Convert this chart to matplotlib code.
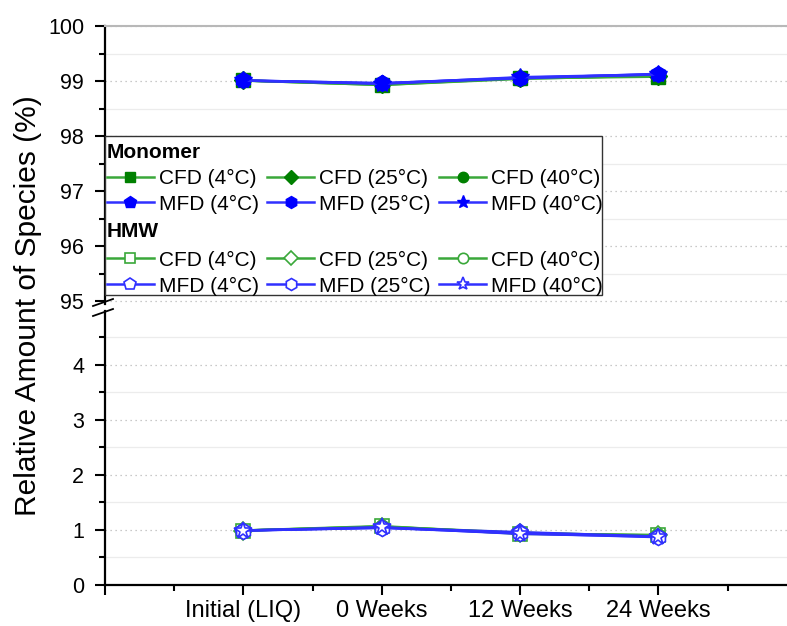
import numpy as np
import matplotlib
matplotlib.use('Agg')
import matplotlib.pyplot as plt
from matplotlib.patches import Rectangle
from matplotlib.ticker import MultipleLocator

plt.rcParams['font.family'] = ['Liberation Sans', 'DejaVu Sans']

# categories on the x axis
timepoints = ['Initial (LIQ)', '0 Weeks', '12 Weeks', '24 Weeks']
series_labels = ['CFD (4°C)', 'CFD (25°C)', 'CFD (40°C)',
                 'MFD (4°C)', 'MFD (25°C)', 'MFD (40°C)']

# monomer (%)
mono_cfd_4 = [99.01, 98.93, 99.05, 99.08]
mono_cfd_25 = [99.01, 98.94, 99.06, 99.09]
mono_cfd_40 = [99.01, 98.93, 99.04, 99.10]
mono_mfd_4 = [99.01, 98.96, 99.06, 99.12]
mono_mfd_25 = [99.01, 98.96, 99.05, 99.13]
mono_mfd_40 = [99.01, 98.95, 99.07, 99.12]

# HMW (%)
hmw_cfd_4 = [0.99, 1.07, 0.93, 0.91]
hmw_cfd_25 = [0.99, 1.06, 0.94, 0.90]
hmw_cfd_40 = [0.99, 1.06, 0.95, 0.89]
hmw_mfd_4 = [0.99, 1.04, 0.96, 0.88]
hmw_mfd_25 = [0.99, 1.04, 0.94, 0.87]
hmw_mfd_40 = [0.99, 1.05, 0.93, 0.88]

mono = [mono_cfd_4, mono_cfd_25, mono_cfd_40, mono_mfd_4, mono_mfd_25, mono_mfd_40]
hmw = [hmw_cfd_4, hmw_cfd_25, hmw_cfd_40, hmw_mfd_4, hmw_mfd_25, hmw_mfd_40]

markers = ['s', 'D', 'o', 'p', 'h', '*']
msizes = [9.5, 9, 10, 11.5, 11.5, 13]
line_cols = ['#3aa83a'] * 3 + ['#3030ff'] * 3
mark_cols = ['#008000'] * 3 + ['#0000ff'] * 3

W, H = 787, 626
fig = plt.figure(figsize=(W / 100, H / 100), dpi=100)

left = 105 / W
top_y0, top_y1 = 26, 304
bot_y0, bot_y1 = 311, 585
ax_top = fig.add_axes([left, 1 - top_y1 / H, 1 - left, (top_y1 - top_y0) / H])
ax_bot = fig.add_axes([left, 1 - bot_y1 / H, 1 - left, (bot_y1 - bot_y0) / H])

x = np.arange(1, len(timepoints) + 1)

mono_handles = []
hmw_handles = []
for i in range(6):
    h, = ax_top.plot(x, mono[i], color=line_cols[i], lw=1.8, marker=markers[i],
                     ms=msizes[i], mfc=mark_cols[i], mec=mark_cols[i],
                     label=series_labels[i])
    mono_handles.append(h)
    h2, = ax_bot.plot(x, hmw[i], color=line_cols[i], lw=1.8, marker=markers[i],
                      ms=msizes[i], mfc='white', mec=line_cols[i], mew=1.2,
                      label=series_labels[i])
    hmw_handles.append(h2)

ax_top.set_ylim(94.95, 100)
ax_bot.set_ylim(0, 4.98)
for ax in (ax_top, ax_bot):
    ax.set_xlim(0, 4.93)
    ax.yaxis.set_major_locator(MultipleLocator(1))
    ax.yaxis.set_minor_locator(MultipleLocator(0.5))
    ax.grid(True, which='major', axis='y', color='#b8b8b8', lw=0.9, ls=(0, (1, 3)))
    ax.grid(True, which='minor', axis='y', color='#ececec', lw=0.9)
    ax.set_axisbelow(True)
    ax.spines['right'].set_visible(False)
    ax.spines['left'].set_linewidth(1.6)
    ax.tick_params(axis='y', which='major', length=7, width=1.5, labelsize=15.5, pad=8)
    ax.tick_params(axis='y', which='minor', length=4, width=1.5)

ax_top.spines['bottom'].set_visible(False)
ax_top.spines['top'].set_color('#b8b8b8')
ax_top.spines['top'].set_linewidth(1.5)
ax_top.tick_params(axis='x', which='both', bottom=False, labelbottom=False)
ax_top.set_xticks([])

ax_bot.spines['top'].set_visible(False)
ax_bot.spines['bottom'].set_linewidth(1.6)
ax_bot.set_xticks(np.arange(0, len(timepoints) + 1))
ax_bot.set_xticklabels([''] + timepoints)
ax_bot.xaxis.set_minor_locator(MultipleLocator(0.5))
ax_bot.tick_params(axis='x', which='major', length=7, width=1.5, labelsize=17, pad=4)
ax_bot.tick_params(axis='x', which='minor', length=4, width=1.5)

# axis break marks
for yb in (303, 313):
    fig.add_artist(plt.Line2D([93 / W, 113 / W], [1 - (yb + 3) / H, 1 - (yb - 4) / H],
                              color='black', lw=1.3))

fig.text(28 / W, 1 - 306 / H, 'Relative Amount of Species (%)', rotation=90,
         ha='center', va='center', fontsize=21.5)

# legend frame
fig.add_artist(Rectangle((105 / W, 1 - 295 / H), 497 / W, 159 / H,
                         transform=fig.transFigure, facecolor='white',
                         edgecolor='#333333', lw=1.0, zorder=3))

leg_kw = dict(ncol=3, frameon=False, fontsize=15, loc='upper left',
              borderpad=0, borderaxespad=0, handlelength=2.25, handletextpad=0.25,
              columnspacing=0.4, labelspacing=0.32, markerscale=0.75,
              alignment='left', title_fontproperties={'weight': 'bold', 'size': 15})

order = [0, 3, 1, 4, 2, 5]
leg1 = fig.legend([mono_handles[i] for i in order], [series_labels[i] for i in order],
                  title='Monomer', bbox_to_anchor=(107 / W, 1 - 143 / H), **leg_kw)
leg2 = fig.legend([hmw_handles[i] for i in order], [series_labels[i] for i in order],
                  title='HMW', bbox_to_anchor=(107 / W, 1 - 222 / H), **leg_kw)
leg1.set_zorder(4)
leg2.set_zorder(4)
leg1._legend_box.sep = 5
leg2._legend_box.sep = 7

plt.savefig('out.png', dpi=100)
